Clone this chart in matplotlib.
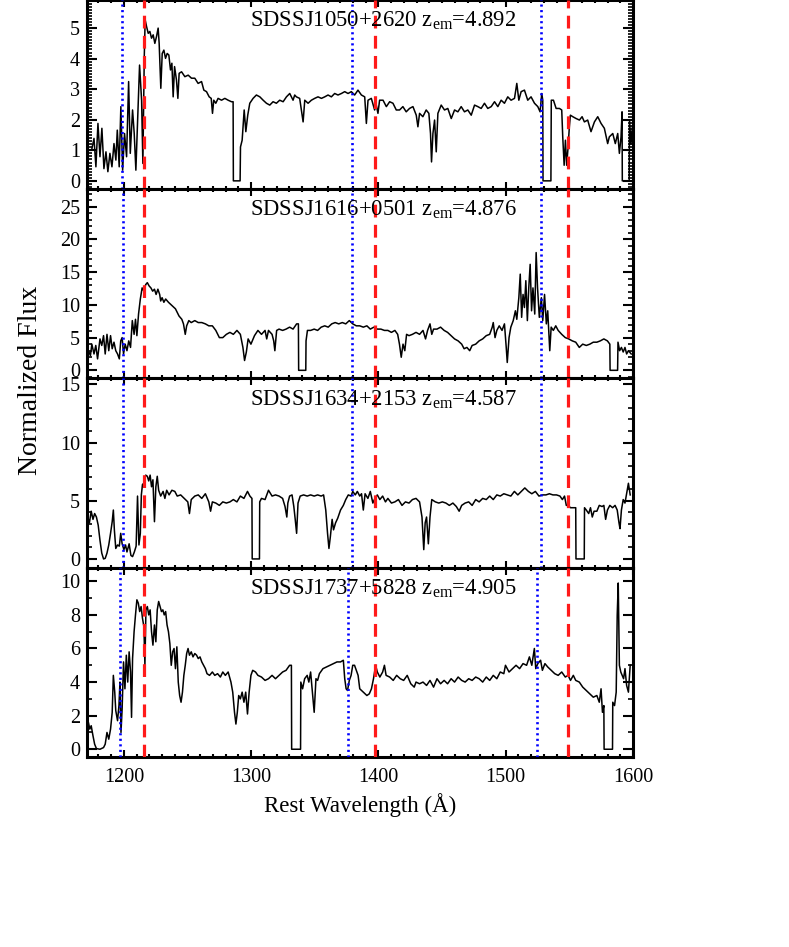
import matplotlib
matplotlib.use('Agg')
import matplotlib.pyplot as plt
from matplotlib.ticker import MultipleLocator

plt.rcParams['font.family'] = ['Liberation Serif', 'DejaVu Serif']
plt.rcParams['mathtext.fontset'] = 'custom'
plt.rcParams['mathtext.rm'] = 'Liberation Serif'
plt.rcParams['mathtext.it'] = 'Liberation Serif:italic'
plt.rcParams['mathtext.default'] = 'regular'

# ---------------- data ----------------
names = ['SDSSJ1050+2620', 'SDSSJ1616+0501', 'SDSSJ1634+2153', 'SDSSJ1737+5828']
zems = ['4.892', '4.876', '4.587', '4.905']
red_lines = [1215.67, 1397.61, 1549.06]
blue_lines = [[1198.6, 1379.0, 1527.7],
              [1199.0, 1379.3, 1528.0],
              [1199.0, 1379.3, 1528.0],
              [1197.2, 1376.4, 1524.5]]
ylims = [(-0.27, 5.93), (-1.25, 27.7), (-0.77, 15.5), (-0.48, 10.8)]
ymajor = [1, 5, 5, 2]
yminor = [0.1, 1, 1, 1]
xticks = [1200, 1300, 1400, 1500, 1600]

wl1 = [1171.5, 1174.6, 1176.5, 1178.0, 1179.6, 1181.2, 1182.7, 1184.3, 1185.9, 1187.4, 1189.0, 1190.6,
       1192.2, 1193.7, 1194.8, 1196.3, 1197.6, 1199.0, 1200.5, 1202.1, 1203.7, 1205.0, 1206.8, 1208.1,
       1209.4, 1211.0, 1212.3, 1213.9, 1214.9, 1216.0, 1216.7, 1217.8, 1219.1, 1220.4, 1221.7, 1223.0,
       1224.3, 1225.6, 1226.9, 1227.7, 1229.0, 1230.1, 1231.4, 1232.7, 1234.0, 1235.3, 1236.6, 1237.7,
       1238.7, 1239.8, 1241.3, 1242.4, 1243.4, 1245.3, 1247.9, 1250.5, 1253.1, 1255.7, 1258.3, 1261.0,
       1262.8, 1264.9, 1267.0, 1268.6, 1269.6, 1270.6, 1272.2, 1274.0, 1276.7, 1279.3, 1281.9, 1284.5,
       1285.8, 1286.0, 1291.3, 1291.6, 1292.9, 1294.5, 1295.8, 1297.3, 1298.9, 1301.5, 1304.1, 1306.8,
       1309.4, 1312.0, 1314.6, 1317.2, 1319.8, 1322.4, 1325.1, 1327.7, 1330.3, 1332.9, 1334.2, 1335.5,
       1338.1, 1340.8, 1342.1, 1344.7, 1347.3, 1349.9, 1352.5, 1355.2, 1357.8, 1360.4, 1363.0, 1365.6,
       1368.2, 1370.9, 1373.5, 1376.1, 1378.7, 1381.3, 1383.9, 1386.6, 1389.2, 1390.5, 1391.8, 1394.4,
       1397.0, 1398.3, 1399.6, 1400.9, 1403.6, 1406.2, 1408.8, 1411.4, 1414.0, 1416.6, 1419.2, 1421.8,
       1424.4, 1427.1, 1429.7, 1431.0, 1432.3, 1434.9, 1437.5, 1439.6, 1440.9, 1441.7, 1442.8, 1444.1,
       1445.4, 1446.7, 1449.3, 1451.9, 1454.5, 1457.2, 1459.8, 1462.4, 1465.0, 1467.6, 1470.2, 1472.9,
       1475.5, 1478.1, 1480.7, 1483.3, 1485.9, 1488.6, 1491.2, 1493.8, 1496.4, 1499.0, 1501.6, 1504.2,
       1506.9, 1508.7, 1510.3, 1512.1, 1514.7, 1517.3, 1519.9, 1522.6, 1525.2, 1527.0, 1528.3, 1529.1,
       1529.3, 1535.5, 1535.8, 1537.5, 1539.6, 1542.2, 1544.0, 1544.8, 1545.9, 1546.9, 1547.9, 1549.0,
       1550.0, 1550.8, 1552.7, 1555.3, 1557.9, 1560.0, 1561.8, 1564.4, 1567.0, 1569.7, 1572.3, 1574.9,
       1577.5, 1580.1, 1581.4, 1584.1, 1586.1, 1588.0, 1589.3, 1590.6, 1591.4, 1591.6, 1597.0, 1597.3,
       1598.4, 1599.6]
fx1 = [1.00, 1.00, 1.39, 0.46, 1.88, 0.79, 1.72, 0.40, 0.95, 0.30, 0.90, 0.46,
       1.22, 0.68, 1.66, 0.46, 2.43, 0.35, 1.55, 0.79, 3.25, 0.90, 2.32, 1.55,
       0.35, 2.20, 3.79, 2.64, 0.57, 4.07, 5.27, 5.05, 4.83, 4.89, 4.67, 4.78,
       4.50, 4.72, 5.00, 4.50, 3.03, 4.17, 4.28, 4.01, 4.17, 4.12, 3.63, 3.85,
       2.75, 3.74, 3.30, 2.70, 3.52, 3.57, 3.41, 3.46, 3.36, 3.36, 3.19, 3.25,
       2.97, 2.92, 2.75, 2.70, 2.21, 2.64, 2.54, 2.70, 2.64, 2.70, 2.64, 2.59,
       2.59, 0.00, 0.00, 1.11, 1.33, 2.32, 1.61, 2.15, 2.54, 2.70, 2.81, 2.75,
       2.64, 2.54, 2.48, 2.59, 2.54, 2.64, 2.59, 2.75, 2.86, 2.64, 2.81, 2.75,
       2.70, 1.93, 2.64, 2.54, 2.64, 2.70, 2.75, 2.70, 2.75, 2.81, 2.75, 2.86,
       2.81, 2.86, 2.92, 2.86, 2.92, 2.81, 2.97, 2.81, 2.75, 1.88, 2.64, 2.70,
       2.32, 2.48, 2.21, 2.64, 2.64, 2.43, 2.59, 2.54, 2.32, 2.32, 2.43, 2.26,
       2.37, 2.43, 2.15, 1.77, 2.21, 2.10, 2.32, 2.21, 1.55, 0.62, 1.55, 1.99,
       0.95, 2.21, 2.48, 2.32, 2.37, 2.04, 2.32, 2.26, 2.43, 2.26, 2.32, 2.15,
       2.48, 2.43, 2.37, 2.54, 2.37, 2.43, 2.59, 2.43, 2.64, 2.54, 2.75, 2.64,
       2.70, 3.19, 2.64, 2.92, 2.97, 2.64, 2.75, 2.54, 2.43, 2.26, 2.86, 2.64,
       0.00, 0.00, 2.64, 2.64, 2.37, 2.37, 2.32, 1.44, 0.51, 1.33, 0.51, 1.11,
       1.77, 2.15, 2.10, 2.04, 1.99, 2.10, 1.93, 1.99, 1.61, 1.93, 2.10, 1.88,
       1.72, 1.22, 1.44, 1.55, 1.22, 1.55, 0.90, 1.44, 2.26, 0.00, 0.00, 1.99,
       1.20, 1.80]

wl2 = [1171.0, 1172.1, 1173.7, 1174.8, 1176.5, 1177.9, 1179.3, 1181.2, 1182.6, 1184.0, 1185.3, 1186.7,
       1188.1, 1189.5, 1190.8, 1192.2, 1193.6, 1195.0, 1196.4, 1197.5, 1198.6, 1199.7, 1201.0, 1202.4,
       1203.8, 1205.2, 1206.6, 1208.0, 1209.1, 1210.2, 1211.5, 1212.9, 1214.3, 1215.7, 1217.1, 1218.4,
       1219.8, 1221.2, 1222.6, 1224.0, 1225.3, 1226.7, 1228.1, 1228.9, 1230.0, 1231.4, 1232.8, 1235.0,
       1237.7, 1240.5, 1243.3, 1245.5, 1246.8, 1248.2, 1249.3, 1251.0, 1252.9, 1255.7, 1258.4, 1261.2,
       1264.0, 1266.7, 1269.5, 1272.2, 1275.0, 1277.7, 1280.5, 1283.3, 1286.0, 1288.8, 1291.5, 1293.5,
       1294.8, 1296.2, 1297.6, 1299.8, 1302.6, 1305.3, 1308.1, 1310.9, 1312.2, 1313.6, 1316.4, 1317.7,
       1318.6, 1320.0, 1321.9, 1324.7, 1327.4, 1330.2, 1332.9, 1335.7, 1337.1, 1337.3, 1342.9, 1343.1,
       1344.2, 1346.7, 1349.5, 1352.2, 1355.0, 1357.8, 1360.5, 1363.3, 1366.0, 1368.8, 1371.6, 1374.3,
       1377.1, 1379.8, 1382.6, 1385.3, 1388.1, 1390.9, 1393.6, 1396.4, 1399.1, 1401.9, 1404.7, 1407.4,
       1410.2, 1412.9, 1415.1, 1416.5, 1417.9, 1419.3, 1420.7, 1422.1, 1424.0, 1426.7, 1429.5, 1432.3,
       1435.0, 1437.0, 1438.6, 1440.5, 1441.9, 1443.3, 1446.0, 1448.8, 1451.6, 1454.3, 1457.1, 1459.8,
       1462.6, 1465.4, 1467.3, 1469.5, 1471.7, 1473.6, 1476.4, 1479.1, 1481.9, 1484.7, 1487.4, 1489.4,
       1490.2, 1491.6, 1493.0, 1494.9, 1497.1, 1499.0, 1500.4, 1501.2, 1502.6, 1504.0, 1505.9, 1507.6,
       1508.7, 1510.3, 1511.4, 1512.5, 1513.6, 1514.7, 1515.8, 1517.0, 1518.1, 1519.2, 1520.3, 1521.4,
       1522.8, 1523.9, 1525.0, 1526.4, 1528.0, 1529.1, 1530.5, 1531.9, 1533.0, 1534.6, 1535.7, 1537.4,
       1539.3, 1541.2, 1544.0, 1546.8, 1549.5, 1552.3, 1555.0, 1557.8, 1560.5, 1563.3, 1566.1, 1568.8,
       1571.6, 1574.3, 1577.1, 1579.9, 1581.8, 1582.0, 1587.9, 1588.2, 1589.5, 1590.9, 1592.3, 1593.7,
       1595.0, 1596.4, 1598.6]
fx2 = [1.5, 3.0, 2.25, 4.0, 2.5, 3.8, 1.75, 4.8, 3.8, 5.3, 2.5, 5.5,
       3.0, 5.3, 3.3, 4.3, 3.0, 2.5, 1.75, 4.5, 5.0, 2.5, 4.0, 3.0,
       4.5, 3.5, 7.6, 5.5, 7.8, 5.3, 8.6, 10.9, 12.6, 12.1, 13.1, 13.4,
       12.9, 12.6, 12.1, 12.4, 11.6, 12.4, 11.6, 10.6, 11.1, 10.4, 10.9, 10.4,
       9.9, 9.4, 8.3, 7.8, 7.1, 5.5, 6.8, 7.6, 7.3, 7.6, 7.3, 7.3,
       7.1, 6.8, 6.8, 6.1, 5.0, 5.0, 5.5, 5.8, 5.5, 6.1, 5.5, 3.5,
       1.5, 2.8, 4.8, 4.0, 5.3, 6.1, 5.5, 6.1, 4.8, 6.1, 5.5, 4.5,
       3.0, 6.1, 6.3, 6.1, 6.3, 6.6, 6.3, 7.1, 7.1, 0.0, 0.0, 4.5,
       6.1, 6.1, 6.3, 6.1, 6.6, 6.8, 6.6, 7.1, 7.3, 7.1, 7.3, 7.1,
       7.6, 7.1, 6.8, 6.8, 6.6, 6.8, 6.3, 6.6, 6.3, 6.3, 6.1, 6.1,
       5.8, 6.1, 5.5, 4.0, 2.0, 4.0, 3.0, 5.5, 5.3, 5.5, 5.8, 5.5,
       6.1, 4.8, 6.1, 7.1, 5.5, 6.3, 6.3, 6.6, 6.1, 5.8, 5.3, 4.8,
       4.5, 4.0, 3.3, 3.5, 3.0, 3.8, 4.0, 4.5, 4.8, 5.3, 5.5, 6.6,
       7.3, 5.0, 6.1, 6.8, 6.1, 7.1, 3.5, 1.2, 5.0, 6.6, 7.6, 9.1,
       7.8, 11.1, 14.7, 8.1, 11.6, 9.6, 13.7, 7.6, 12.6, 16.2, 9.1, 12.6,
       8.6, 18.0, 12.6, 8.1, 11.1, 7.6, 11.6, 7.1, 9.1, 3.0, 6.6, 6.1,
       6.8, 6.1, 5.5, 5.0, 4.8, 4.5, 4.3, 3.5, 4.0, 3.8, 4.0, 4.3,
       4.3, 4.5, 4.8, 4.5, 4.0, 0.0, 0.0, 4.3, 3.0, 3.5, 2.8, 3.5,
       2.5, 3.0, 2.5]

wl3 = [1171.0, 1171.5, 1172.9, 1174.3, 1175.7, 1177.0, 1178.4, 1179.8, 1181.2, 1182.6, 1184.0, 1185.3,
       1186.7, 1188.1, 1189.5, 1190.8, 1191.7, 1192.5, 1193.6, 1195.0, 1196.4, 1197.5, 1198.6, 1200.0,
       1201.3, 1202.4, 1204.1, 1205.5, 1206.8, 1208.2, 1209.6, 1210.7, 1211.8, 1212.9, 1213.7, 1214.6,
       1215.7, 1217.1, 1218.4, 1219.5, 1220.6, 1221.7, 1222.8, 1224.0, 1225.1, 1226.2, 1227.3, 1228.9,
       1230.8, 1232.2, 1233.6, 1235.5, 1237.7, 1240.0, 1241.9, 1244.6, 1247.4, 1250.2, 1251.5, 1252.9,
       1255.7, 1258.4, 1261.2, 1264.0, 1266.7, 1268.1, 1269.5, 1272.2, 1275.0, 1277.7, 1280.5, 1283.3,
       1286.0, 1288.8, 1291.5, 1294.3, 1297.1, 1299.0, 1300.6, 1300.8, 1306.5, 1306.7, 1308.1, 1310.9,
       1313.6, 1316.4, 1319.1, 1321.9, 1324.7, 1326.6, 1328.0, 1328.8, 1330.2, 1332.1, 1333.5, 1334.6,
       1335.7, 1336.8, 1338.5, 1341.2, 1344.0, 1346.7, 1349.5, 1352.2, 1355.0, 1356.9, 1358.6, 1360.0,
       1361.1, 1362.2, 1363.6, 1364.7, 1366.3, 1368.0, 1370.2, 1372.4, 1374.3, 1376.3, 1378.5, 1379.8,
       1381.8, 1383.4, 1385.3, 1386.7, 1388.1, 1389.5, 1391.7, 1393.6, 1395.6, 1397.2, 1399.1, 1401.1,
       1403.3, 1405.5, 1407.4, 1410.2, 1412.9, 1415.7, 1418.5, 1421.2, 1424.0, 1426.7, 1429.5, 1432.3,
       1434.2, 1435.6, 1436.7, 1437.8, 1439.2, 1440.5, 1441.9, 1444.7, 1447.4, 1450.2, 1453.0, 1455.7,
       1458.5, 1461.2, 1463.4, 1465.4, 1468.1, 1470.9, 1473.6, 1476.4, 1479.1, 1481.9, 1484.7, 1487.4,
       1490.2, 1493.0, 1495.7, 1498.5, 1501.2, 1504.0, 1506.8, 1509.5, 1512.3, 1515.0, 1517.8, 1520.5,
       1523.3, 1526.1, 1528.8, 1531.6, 1534.3, 1537.1, 1539.9, 1542.6, 1544.5, 1546.2, 1547.6, 1549.0,
       1550.9, 1553.1, 1555.0, 1555.2, 1561.7, 1561.9, 1563.3, 1565.2, 1566.6, 1568.0, 1569.4, 1571.6,
       1573.5, 1575.7, 1577.1, 1578.5, 1579.9, 1581.8, 1584.0, 1585.9, 1587.6, 1589.0, 1589.8, 1590.9,
       1592.3, 1593.7, 1595.0, 1596.4, 1597.8]
fx3 = [2.2, 3.6, 3.1, 4.1, 3.4, 3.9, 3.6, 2.9, 1.6, 0.5, 0.0, 0.05,
       0.5, 1.2, 2.2, 3.2, 4.2, 2.5, 0.9, 1.2, 1.1, 2.2, 1.3, 0.8,
       1.2, 0.6, 1.3, 0.3, 0.2, 0.6, 1.1, 5.4, 1.2, 2.2, 5.5, 6.4,
       6.5, 7.2, 7.1, 6.7, 7.2, 6.2, 6.8, 3.2, 6.2, 7.1, 5.9, 5.4,
       5.8, 5.2, 5.9, 5.5, 5.9, 5.8, 5.4, 5.5, 5.2, 4.9, 3.9, 5.1,
       5.4, 5.5, 5.2, 5.6, 4.9, 4.1, 4.9, 4.8, 4.6, 4.9, 4.8, 4.9,
       5.1, 4.9, 5.4, 5.2, 5.8, 5.4, 5.2, 0.0, 0.0, 4.9, 5.2, 5.1,
       5.9, 5.4, 5.5, 5.4, 5.2, 4.5, 3.6, 4.8, 5.4, 5.5, 4.5, 3.4,
       2.2, 4.8, 5.4, 5.5, 5.4, 5.5, 5.4, 5.5, 5.4, 5.5, 4.2, 2.2,
       0.9, 1.9, 3.4, 2.5, 3.1, 3.5, 4.2, 4.6, 5.1, 5.5, 5.4, 5.8,
       5.5, 5.8, 5.4, 5.6, 4.2, 5.6, 5.2, 5.8, 4.8, 5.2, 5.5, 5.1,
       5.4, 4.9, 5.2, 4.8, 4.9, 5.1, 4.6, 4.9, 4.8, 5.1, 5.2, 4.9,
       3.6, 0.8, 3.1, 3.6, 1.3, 3.6, 5.1, 4.9, 4.8, 4.9, 4.8, 4.6,
       4.8, 4.5, 4.1, 4.6, 4.8, 4.9, 4.6, 5.1, 4.9, 5.2, 5.1, 5.4,
       5.1, 5.5, 5.4, 5.6, 5.5, 5.4, 5.8, 5.5, 5.8, 6.1, 5.8, 5.6,
       5.8, 5.4, 5.5, 5.5, 5.6, 5.5, 5.5, 5.4, 5.1, 5.4, 4.6, 4.6,
       4.4, 4.4, 4.4, 0.0, 0.0, 4.4, 4.2, 3.9, 4.4, 3.6, 4.1, 4.1,
       4.6, 4.5, 4.6, 3.4, 4.2, 4.6, 4.4, 4.6, 4.2, 3.1, 2.6, 4.2,
       5.1, 4.8, 5.6, 6.5, 5.5]

wl4 = [1171.0, 1172.1, 1173.2, 1174.3, 1175.7, 1177.0, 1178.4, 1181.2, 1184.0, 1185.3, 1186.7, 1188.1,
       1189.5, 1190.8, 1191.7, 1192.8, 1193.6, 1195.0, 1196.1, 1196.9, 1197.7, 1198.6, 1199.7, 1200.8,
       1201.9, 1203.0, 1204.1, 1205.2, 1206.0, 1206.8, 1208.0, 1209.1, 1210.2, 1211.3, 1212.4, 1213.5,
       1214.6, 1215.7, 1216.5, 1217.3, 1218.4, 1219.5, 1220.6, 1221.7, 1222.8, 1224.0, 1225.1, 1226.2,
       1227.3, 1228.4, 1229.5, 1230.6, 1231.7, 1232.8, 1233.9, 1235.0, 1236.1, 1237.2, 1238.3, 1239.4,
       1240.5, 1241.6, 1242.7, 1243.8, 1244.9, 1246.0, 1247.1, 1248.2, 1249.3, 1250.4, 1251.5, 1252.9,
       1254.3, 1255.7, 1257.1, 1258.4, 1259.8, 1261.2, 1262.6, 1264.0, 1265.3, 1267.3, 1269.5, 1271.4,
       1273.6, 1275.8, 1277.7, 1279.7, 1281.9, 1284.1, 1285.5, 1286.9, 1288.0, 1289.1, 1290.2, 1291.5,
       1292.9, 1294.3, 1295.7, 1297.1, 1298.4, 1299.8, 1301.2, 1303.4, 1305.3, 1308.1, 1310.9, 1313.6,
       1316.4, 1319.1, 1321.9, 1324.7, 1327.4, 1330.2, 1331.6, 1331.8, 1338.8, 1339.0, 1340.4, 1342.0,
       1344.0, 1345.3, 1346.7, 1348.1, 1349.5, 1350.9, 1352.2, 1353.6, 1356.4, 1359.1, 1361.9, 1364.7,
       1367.4, 1370.2, 1372.4, 1373.5, 1374.6, 1375.7, 1377.1, 1378.5, 1379.8, 1381.2, 1382.6, 1384.0,
       1385.3, 1388.1, 1390.9, 1392.8, 1394.5, 1396.1, 1397.8, 1399.1, 1401.1, 1403.3, 1404.7, 1406.0,
       1408.8, 1411.6, 1414.3, 1417.1, 1419.8, 1422.6, 1425.4, 1428.1, 1429.5, 1432.3, 1435.0, 1437.8,
       1440.5, 1443.3, 1446.0, 1448.8, 1451.6, 1454.3, 1457.1, 1459.8, 1462.6, 1465.4, 1468.1, 1470.9,
       1473.6, 1476.4, 1479.1, 1481.9, 1484.7, 1487.4, 1490.2, 1493.0, 1495.7, 1498.5, 1499.8, 1502.6,
       1505.4, 1508.1, 1510.9, 1513.6, 1516.4, 1518.6, 1520.5, 1522.5, 1523.6, 1525.2, 1527.4, 1528.8,
       1530.8, 1533.0, 1535.7, 1538.5, 1541.2, 1544.0, 1546.8, 1549.0, 1550.9, 1553.1, 1555.0, 1557.8,
       1560.5, 1563.3, 1566.1, 1568.8, 1571.6, 1573.5, 1574.9, 1576.0, 1577.1, 1577.3, 1583.9, 1584.1,
       1585.5, 1586.8, 1587.6, 1588.4, 1589.3, 1590.4, 1591.5, 1592.6, 1593.7, 1595.0, 1596.4, 1597.8]
fx4 = [1.0, 1.6, 1.2, 1.4, 0.8, 0.3, 0.04, 0.0, 0.1, 0.3, 1.0, 0.6,
       1.2, 2.2, 4.4, 3.4, 2.3, 1.7, 2.6, 4.0, 1.0, 2.4, 5.2, 3.6,
       5.6, 4.0, 5.8, 4.6, 1.9, 5.4, 7.0, 8.0, 8.9, 8.7, 8.2, 8.5,
       7.8, 7.3, 5.0, 8.3, 8.5, 8.0, 8.3, 7.0, 6.2, 7.4, 6.4, 8.3,
       8.8, 8.5, 8.2, 8.3, 8.0, 8.2, 7.4, 7.0, 6.3, 5.0, 5.8, 6.0,
       4.8, 6.1, 4.0, 3.2, 2.8, 3.4, 4.4, 5.0, 5.7, 6.0, 5.6, 5.8,
       5.5, 5.7, 5.6, 5.4, 5.5, 5.2, 5.0, 4.8, 4.5, 4.4, 4.6, 4.4,
       4.5, 4.3, 4.6, 4.4, 4.6, 4.0, 3.4, 2.2, 1.5, 2.2, 3.2, 3.0,
       3.4, 2.8, 3.4, 2.1, 3.4, 4.4, 4.7, 4.6, 4.4, 4.3, 4.1, 4.2,
       4.4, 4.2, 4.4, 4.6, 4.7, 5.0, 5.0, 0.0, 0.0, 4.0, 3.6, 4.2,
       4.4, 4.0, 4.6, 3.4, 2.2, 4.2, 4.1, 4.5, 4.8, 4.9, 5.0, 5.1,
       5.2, 5.2, 5.3, 4.2, 3.6, 3.5, 4.1, 4.4, 5.0, 5.0, 4.7, 4.4,
       3.6, 3.4, 3.2, 3.3, 3.6, 4.2, 5.0, 4.6, 4.3, 4.6, 5.0, 4.4,
       4.3, 4.1, 4.4, 4.2, 4.1, 4.4, 3.9, 3.7, 4.0, 3.9, 4.0, 3.8,
       4.1, 3.7, 4.2, 3.9, 4.1, 3.9, 4.2, 4.0, 4.3, 4.1, 4.0, 4.2,
       4.1, 4.3, 4.2, 4.0, 4.3, 4.1, 4.4, 4.2, 4.6, 4.5, 5.0, 4.6,
       4.8, 5.0, 4.8, 5.1, 5.0, 5.5, 5.0, 6.0, 4.8, 5.1, 5.3, 4.7,
       5.1, 4.9, 4.7, 4.5, 4.4, 4.6, 4.3, 4.4, 4.1, 4.4, 4.1, 4.0,
       3.7, 3.5, 3.3, 3.1, 3.2, 2.8, 3.6, 2.2, 2.6, 0.0, 0.0, 2.8,
       2.6, 3.4, 8.0, 9.9, 5.0, 4.6, 4.4, 4.2, 4.8, 3.8, 3.4, 5.0]

wls = [wl1, wl2, wl3, wl4]
fxs = [fx1, fx2, fx3, fx4]

# ---------------- layout ----------------
W, H = 789, 947
fig = plt.figure(figsize=(W / 100, H / 100), dpi=100)
left = 87 / W
width = 546 / W
ph = 189.4 / H
bottom0 = 1 - 757.3 / H

for i in range(4):
    ax = fig.add_axes([left, bottom0 + (3 - i) * ph, width, ph])
    ax.plot(wls[i], fxs[i], color='black', lw=1.1, zorder=2)
    for xv in blue_lines[i]:
        ax.axvline(xv, color='#0000ff', lw=1.9, linestyle=(0, (0.8, 1.3)), zorder=3)
    for xv in red_lines:
        ax.axvline(xv, color='#ff1a1a', lw=2.3, linestyle=(0, (4.0, 2.3)), zorder=3)
    ax.set_xlim(1171, 1600)
    ax.set_ylim(*ylims[i])
    ax.xaxis.set_major_locator(MultipleLocator(100))
    ax.xaxis.set_minor_locator(MultipleLocator(10))
    ax.yaxis.set_major_locator(MultipleLocator(ymajor[i]))
    ax.yaxis.set_minor_locator(MultipleLocator(yminor[i]))
    ax.tick_params(axis='both', which='both', direction='in', top=True, right=True,
                   width=1.5, labelsize=14.5)
    ax.tick_params(axis='x', which='major', length=5, pad=8)
    ax.tick_params(axis='x', which='minor', length=2.5)
    ax.tick_params(axis='y', which='major', length=7, pad=5)
    ax.tick_params(axis='y', which='minor', length=3.5, width=1.2)
    for sp in ax.spines.values():
        sp.set_linewidth(2.2)
    if i < 3:
        ax.set_xticklabels([])
    else:
        ax.set_xticks(xticks)
    ax.text(0.2985, 0.857, names[i] + ' z$_{em}$=' + zems[i], transform=ax.transAxes,
            fontsize=16.3, ha='left', va='baseline', zorder=5)

fig.text(31 / W, 1 - 380 / H, 'Normalized Flux', rotation=90, ha='center', va='center',
         fontsize=20)
fig.text(360 / W, 1 - 812 / H, 'Rest Wavelength (Å)', ha='center', va='baseline',
         fontsize=16.5)

fig.savefig('out.png', dpi=100)
